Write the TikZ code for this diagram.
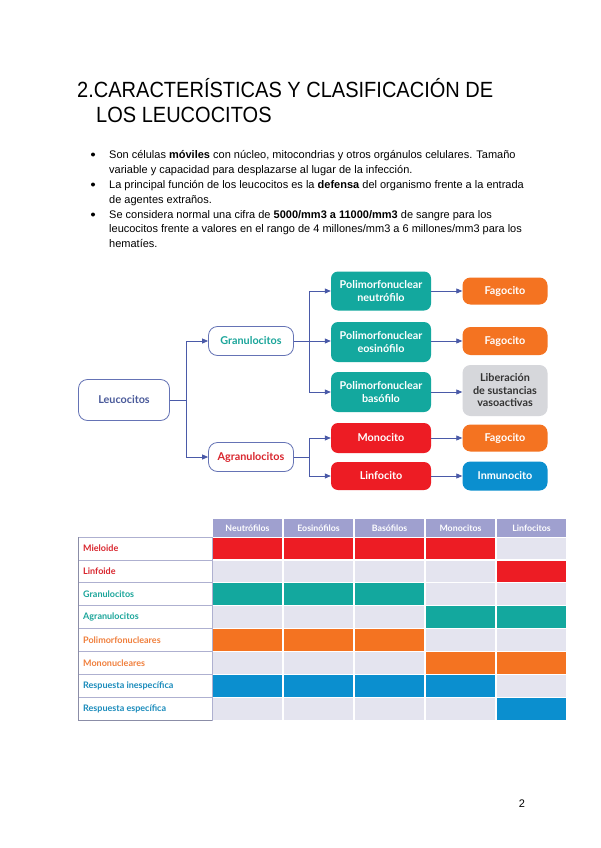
\documentclass[tikz,border=0pt]{standalone}
\usepackage{fontspec}
\setmainfont{Liberation Sans}
\newfontfamily\dfont{Lato}
\usetikzlibrary{arrows.meta}
\definecolor{arrblue}{HTML}{4A5AA8}
\definecolor{cteal}{HTML}{13A89E}
\definecolor{cred}{HTML}{ED1C24}
\definecolor{corange}{HTML}{F47321}
\definecolor{cblue}{HTML}{0B8FCF}
\definecolor{cgray}{HTML}{D6D7DB}
\definecolor{hdr}{HTML}{9FA0CF}
\definecolor{empt}{HTML}{E4E4EF}
\definecolor{lborder}{HTML}{AEB0D0}
\definecolor{tred}{HTML}{D9262E}
\definecolor{tteal}{HTML}{1AA59A}
\definecolor{torange}{HTML}{F07F3C}
\definecolor{tblue}{HTML}{1B8CBC}
\definecolor{leutext}{HTML}{4A5A9A}
\tikzset{
  bodytext/.style={anchor=base west, inner sep=0pt, font=\fontsize{11}{13}\selectfont},
  wbox/.style={draw=arrblue!85, line width=0.8pt, rounded corners=9pt, fill=white, minimum width=91pt, minimum height=41pt, font=\dfont\bfseries\fontsize{10.8}{12}\selectfont, text=leutext},
  gbox/.style={draw=arrblue!85, line width=0.8pt, rounded corners=9pt, fill=white, minimum width=85pt, minimum height=29pt, font=\dfont\bfseries\fontsize{10.8}{12}\selectfont},
  cbox/.style={rounded corners=7pt, minimum width=100pt, text=white, align=center, font=\dfont\bfseries\fontsize{10.8}{13}\selectfont, inner sep=2pt},
  rbox/.style={rounded corners=8pt, minimum width=85pt, text=white, align=center, font=\dfont\bfseries\fontsize{10.8}{12}\selectfont, inner sep=2pt},
  arr/.style={draw=arrblue, line width=0.8pt, -{Triangle[length=6pt,width=5pt]}},
  ln/.style={draw=arrblue, line width=0.8pt},
  lab/.style={anchor=west, font=\dfont\bfseries\fontsize{9}{10}\selectfont, inner sep=0pt},
  hd/.style={text=white, font=\dfont\bfseries\fontsize{8.8}{10}\selectfont, inner sep=0pt},
}
\begin{document}
\begin{tikzpicture}[x=1pt,y=-1pt]
\useasboundingbox (0,0) rectangle (600,848);
\fill[white] (0,0) rectangle (600,848);
% title
\node[anchor=base west, inner sep=0pt, font=\fontsize{22}{25}\selectfont] (t1) at (77,98) {\scalebox{0.91}[1]{2.CARACTERÍSTICAS Y CLASIFICACIÓN DE}};
\node[anchor=base west, inner sep=0pt, font=\fontsize{22}{25}\selectfont] (t2) at (96,123) {\scalebox{0.91}[1]{LOS LEUCOCITOS}};
% bullets
\node[bodytext] (b1) at (109,158) {Son células \textbf{móviles} con núcleo, mitocondrias y otros orgánulos celulares. Tamaño};
\node[bodytext] (b2) at (109,173) {variable y capacidad para desplazarse al lugar de la infección.};
\node[bodytext] (b3) at (109,188) {La principal función de los leucocitos es la \textbf{defensa} del organismo frente a la entrada};
\node[bodytext] (b4) at (109,203) {de agentes extraños.};
\node[bodytext] (b5) at (109,218) {Se considera normal una cifra de \textbf{5000/mm3 a 11000/mm3} de sangre para los};
\node[bodytext] (b6) at (109,232) {leucocitos frente a valores en el rango de 4 millones/mm3 a 6 millones/mm3 para los};
\node[bodytext] (b7) at (109,247) {hematíes.};
\fill (93,154.5) circle (2);
\fill (93,184.5) circle (2);
\fill (93,214.5) circle (2);
% diagram
\node[wbox] (leu) at (124,400) {Leucocitos};
\node[gbox, text=tteal] (gra) at (251,341) {Granulocitos};
\node[gbox, text=tred] (agr) at (251,457) {Agranulocitos};
\node[cbox, fill=cteal, minimum height=39pt] (neu) at (381,291) {Polimorfonuclear\\neutrófilo};
\node[cbox, fill=cteal, minimum height=40pt] (eos) at (381,342) {Polimorfonuclear\\eosinófilo};
\node[cbox, fill=cteal, minimum height=40pt] (bas) at (381,392) {Polimorfonuclear\\basófilo};
\node[cbox, fill=cred, minimum height=30pt] (mon) at (381,438) {Monocito};
\node[cbox, fill=cred, minimum height=28pt] (lin) at (381,476) {Linfocito};
\node[rbox, fill=corange, minimum height=27pt] (f1) at (505,291) {Fagocito};
\node[rbox, fill=corange, minimum height=28pt] (f2) at (505,341) {Fagocito};
\node[rbox, fill=cgray, minimum height=51pt, text=black!80, font=\dfont\bfseries\fontsize{10.8}{12.5}\selectfont] (lib) at (505,390.5) {Liberación\\de sustancias\\vasoactivas};
\node[rbox, fill=corange, minimum height=27pt] (f3) at (505,438) {Fagocito};
\node[rbox, fill=cblue, minimum height=29pt] (inm) at (505,476) {Inmunocito};
\coordinate (j1) at (186,400);
\coordinate (j2) at (309,341);
\coordinate (j3) at (309,457);
\draw[ln] (leu.east) -- (j1);
\draw[arr] (j1) |- (gra.west);
\draw[arr] (j1) |- (agr.west);
\draw[ln] (gra.east) -- (j2);
\draw[arr] (j2) |- (neu.west);
\draw[arr] (j2) -- (eos.west |- j2);
\draw[arr] (j2) |- (bas.west);
\draw[ln] (agr.east) -- (j3);
\draw[arr] (j3) |- (mon.west);
\draw[arr] (j3) |- (lin.west);
\draw[arr] (neu.east) -- (f1.west |- neu.east);
\draw[arr] (eos.east |- f2.west) -- (f2.west);
\draw[arr] (bas.east) -- (lib.west |- bas.east);
\draw[arr] (mon.east) -- (f3.west);
\draw[arr] (lin.east) -- (inm.west);
% table
\foreach \x/\t [count=\i] in {212/Neutrófilos,283/Eosinófilos,354/Basófilos,425/Monocitos,496/Linfocitos}{
  \fill[hdr] (\x+0.6,519) rectangle (\x+70.4,537);
  \node[hd] (h\i) at (\x+35.5,528) {\t};
}
\foreach \t/\c [count=\r] in {Mieloide/tred,Linfoide/tred,Granulocitos/tteal,Agranulocitos/tteal,Polimorfonucleares/torange,Mononucleares/torange,Respuesta inespecífica/tblue,Respuesta específica/tblue}{
  \pgfmathsetmacro{\ya}{537+(\r-1)*22.9}
  \draw[lborder, line width=0.8pt, fill=white] (78,\ya) rectangle (212,\ya+22.9);
  \node[lab, text=\c] (l\r) at (83,\ya+11.45) {\t};
  \foreach \x in {212,283,354,425,496}{
    \fill[empt] (\x+0.6,\ya+0.6) rectangle (\x+70.4,\ya+22.3);
  }
}
\draw[lborder!80!black, line width=1pt] (78,537) -- (78,720.2) -- (212,720.2);
% filled cells: row/col/color
\foreach \r/\x/\c in {1/212/cred,1/283/cred,1/354/cred,1/425/cred,2/496/cred,
  3/212/cteal,3/283/cteal,3/354/cteal,4/425/cteal,4/496/cteal,
  5/212/corange,5/283/corange,5/354/corange,6/425/corange,6/496/corange,
  7/212/cblue,7/283/cblue,7/354/cblue,7/425/cblue,8/496/cblue}{
  \pgfmathsetmacro{\ya}{537+(\r-1)*22.9}
  \fill[\c] (\x+0.6,\ya+0.6) rectangle (\x+70.4,\ya+22.3);
}
\node[anchor=base, inner sep=0pt, font=\fontsize{11}{13}\selectfont] (pg) at (522,807) {2};
\end{tikzpicture}
\end{document}
